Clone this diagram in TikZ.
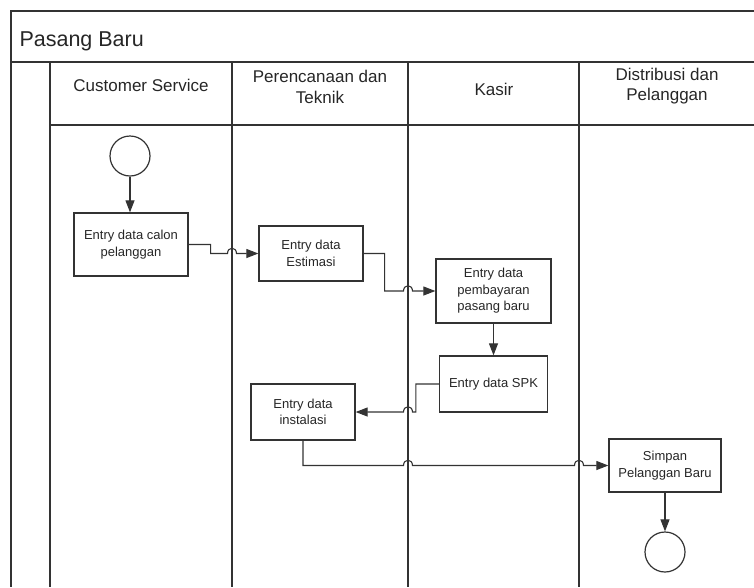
\documentclass[tikz,border=0pt]{standalone}
\usepackage{fontspec}
\setmainfont{Liberation Sans}
\usetikzlibrary{arrows.meta,calc}
% a small arch where a flow line jumps over a lane divider
\newcommand\jumpright[1]{($(#1)+(-4.5,0)$) .. controls ($(#1)+(-4.5,-7)$) and ($(#1)+(4.5,-7)$) .. ($(#1)+(4.5,0)$)}
\newcommand\jumpleft[1]{($(#1)+(4.5,0)$) .. controls ($(#1)+(4.5,-7)$) and ($(#1)+(-4.5,-7)$) .. ($(#1)+(-4.5,0)$)}
\begin{document}
\begin{tikzpicture}[x=1pt,y=-1pt,
  lane/.style={draw=black!80,line width=1.3pt},
  task/.style={draw=black!80,line width=1.3pt,rectangle,align=center,inner sep=2pt,
    font=\fontsize{13}{16.5}\selectfont,text=black!85},
  terminal/.style={draw=black!80,line width=1.2pt,circle,minimum size=40pt,inner sep=0pt},
  flow/.style={draw=black!80,line width=1.1pt,-{Triangle[length=12pt,width=9pt]}},
  head/.style={font=\fontsize{17}{20.5}\selectfont,align=center,text=black!85},
  title/.style={font=\fontsize{21.5}{25}\selectfont,text=black!85,anchor=west}
]
\useasboundingbox (0,0) rectangle (754,587);

% pool frame, title band and header band
\draw[lane] (754,11) -- (11,11) -- (11,587);
\draw[lane] (11,62) -- (754,62);
\draw[lane] (50,125) -- (754,125);
\foreach \x in {50,232,408,579} \draw[lane] (\x,62) -- (\x,587);

% lane dividers crossed by flows
\coordinate (d2) at (232,0);
\coordinate (d3) at (408,0);
\coordinate (d4) at (579,0);

\node[title] (pool) at (16,41) {Pasang Baru};
\node[head] (hcs) at (141,85) {Customer Service};
\node[head] (hpt) at (320,87) {Perencanaan dan\\Teknik};
\node[head] (hks) at (494,89) {Kasir};
\node[head] (hdp) at (667,86) {Distribusi dan\\Pelanggan};

% activities
\node[terminal] (start) at (130,156) {};
\node[task,minimum width=114pt,minimum height=63pt] (b1) at (131,244.5) {Entry data calon\\pelanggan};
\node[task,minimum width=104pt,minimum height=55pt] (b2) at (311,253.5) {Entry data\\Estimasi};
\node[task,minimum width=115pt,minimum height=64pt] (b3) at (493.5,291) {Entry data\\pembayaran\\pasang baru};
\node[task,minimum width=108pt,minimum height=56pt] (b4) at (493.5,384) {Entry data SPK};
\node[task,minimum width=104pt,minimum height=56pt] (b5) at (303,412) {Entry data\\instalasi};
\node[task,minimum width=112pt,minimum height=53pt] (b6) at (665,465.5) {Simpan\\Pelanggan Baru};
\node[terminal] (end) at (665,552) {};

% crossing points
\coordinate (x1) at (d2 |- b2.west);
\coordinate (x2) at (d3 |- b3.west);
\coordinate (x3) at (d3 |- b5.east);
\coordinate (x4) at (d3 |- b6.west);
\coordinate (x5) at (d4 |- b6.west);

% flows
\draw[flow] (start) -- (start |- b1.north);
\draw[flow] (b1.east) -- ++(22,0) |- \jumpright{x1} -- (b2.west);
\draw[flow] (b2.east) -- ++(21,0) |- \jumpright{x2} -- (b3.west);
\draw[flow] (b3.south) -- (b3.south |- b4.north);
\draw[flow] (b4.west) -- ++(-23,0) |- \jumpleft{x3} -- (b5.east);
\draw[flow] (b5.south) |- \jumpright{x4} -- \jumpright{x5} -- (b6.west);
\draw[flow] (b6.south) -- (end);
\end{tikzpicture}
\end{document}
